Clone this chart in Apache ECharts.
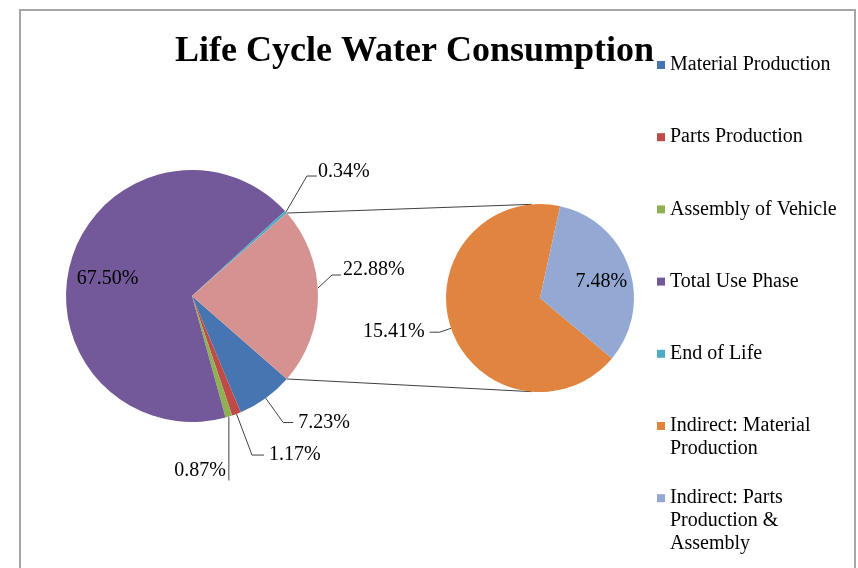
<html>
<head>
<meta charset="utf-8" />
<script src="https://cdn.jsdelivr.net/npm/echarts@6/dist/echarts.min.js"></script>
<style type="text/css">
	html, body, #main {
	width: 100%;
	height: 100%;
	margin: 0;
	background: #fff;
}
</style>
</head>
<body>
	<div id="main"></div>
	<script>
		// shares of total water consumption (%)
		var mainNames = ['Material Production', 'Parts Production', 'Assembly of Vehicle', 'Total Use Phase', 'End of Life', 'Other'];
		var mainValues = [7.23, 1.17, 0.87, 67.50, 0.34, 22.88];
		var subNames = ['Indirect: Material Production', 'Indirect: Parts Production & Assembly'];
		var subValues = [15.41, 7.48];
		var mainColors = ['#4675B1', '#BE4B48', '#8FB151', '#74599A', '#4BACC6', '#D59290'];
		var subColors = ['#E0843F', '#93A9D3'];
		// legend text as wrapped in the picture
		var legendLines = [
			['Material Production'],
			['Parts Production'],
			['Assembly of Vehicle'],
			['Total Use Phase'],
			['End of Life'],
			['Indirect: Material', 'Production'],
			['Indirect: Parts', 'Production &', 'Assembly']
		];

		var font = 'Liberation Serif';
		var C1 = [192, 296], R1 = 126;
		var C2 = [540, 298], R2 = 94;
		var lineH = 23;

		var chart = echarts.init(document.getElementById('main'));

		var otherHalf = mainValues[5] / mainValues.reduce(function (a, b) { return a + b; }, 0) * 180;

		var mainData = mainNames.map(function (n, i) {
			var d = { name: n, value: mainValues[i], itemStyle: { color: mainColors[i] } };
			if (i === 3) {
				d.label = { position: 'inside', offset: [-21, 1] };
				d.labelLine = { show: false };
			}
			if (i === 1) d.labelLine = { length: 44, length2: 12 };
			return d;
		});
		var subData = subNames.map(function (n, i) {
			var d = { name: n, value: subValues[i], itemStyle: { color: subColors[i] } };
			if (i === 1) {
				d.label = { position: 'inside', offset: [14, 0] };
				d.labelLine = { show: false };
			}
			return d;
		});

		var allNames = mainNames.slice(0, 5).concat(subNames);
		var legends = allNames.map(function (n, i) {
			var lines = legendLines[i];
			var padded = [];
			for (var k = 1; k < lines.length; k++) padded.push('');
			padded = padded.concat(lines);
			var y = 65 + 72.2 * i;
			return {
				orient: 'vertical',
				left: 657,
				top: y - lineH * padded.length / 2,
				padding: 0,
				icon: 'rect',
				itemWidth: 8,
				itemHeight: 8,
				selectedMode: false,
				data: [n],
				formatter: function () { return padded.join('\n'); },
				textStyle: { fontFamily: font, fontSize: 20, color: '#000', lineHeight: lineH }
			};
		});

		function pt(c, r, deg) {
			var a = deg * Math.PI / 180;
			return [c[0] + r * Math.cos(a), c[1] - r * Math.sin(a)];
		}
		var pTop1 = pt(C1, R1, otherHalf), pBot1 = pt(C1, R1, -otherHalf);
		var pTop2 = pt(C2, R2, 95), pBot2 = pt(C2, R2, 265);

		var labelStyle = {
			fontFamily: font, fontSize: 20, color: '#000',
			formatter: function (p) { return p.value.toFixed(2) + '%'; }
		};

		var option = {
			animation: false,
			title: {
				text: 'Life Cycle Water Consumption',
				left: 170,
				top: 29,
				textStyle: { fontFamily: font, fontSize: 36, fontWeight: 'bold', color: '#000' }
			},
			legend: legends,
			graphic: [
				{ type: 'rect', shape: { x: 20, y: 10, width: 835, height: 600 },
					style: { fill: 'none', stroke: '#A6A6A6', lineWidth: 2 }, silent: true },
				{ type: 'line', shape: { x1: pTop1[0], y1: pTop1[1], x2: pTop2[0], y2: pTop2[1] },
					style: { stroke: '#404040', lineWidth: 1 }, silent: true },
				{ type: 'line', shape: { x1: pBot1[0], y1: pBot1[1], x2: pBot2[0], y2: pBot2[1] },
					style: { stroke: '#404040', lineWidth: 1 }, silent: true }
			],
			series: [
				{
					type: 'pie',
					center: C1,
					radius: R1,
					startAngle: -otherHalf,
					clockwise: true,
					avoidLabelOverlap: false,
					label: labelStyle,
					labelLine: { length: 30, length2: 10, lineStyle: { color: '#404040', width: 1 } },
					emphasis: { disabled: true },
					labelLayout: function (p) {
						var a = p.labelLinePoints && p.labelLinePoints[0];
						if (!a) return {};
						if (p.dataIndex === 2) {
							return { x: a[0] - 3, y: a[1] + 54, align: 'right', verticalAlign: 'middle',
								labelLinePoints: [a, [a[0], a[1] + 64]] };
						}
						if (p.dataIndex === 4) {
							return { x: a[0] + 32, y: a[1] - 40, align: 'left', verticalAlign: 'middle',
								labelLinePoints: [a, [a[0] + 21, a[1] - 36], [a[0] + 31, a[1] - 36]] };
						}
						if (p.dataIndex === 5) {
							return { x: a[0] + 25, y: a[1] - 26, align: 'left', verticalAlign: 'middle',
								labelLinePoints: [[a[0], a[1] - 8], [a[0] + 14, a[1] - 21], [a[0] + 23, a[1] - 21]] };
						}
						return {};
					},
					data: mainData
				},
				{
					type: 'pie',
					center: C2,
					radius: R2,
					startAngle: -40,
					clockwise: true,
					avoidLabelOverlap: false,
					label: labelStyle,
					labelLine: { length: 12, length2: 10, lineStyle: { color: '#404040', width: 1 } },
					emphasis: { disabled: true },
					data: subData
				}
			]
		};

		chart.setOption(option);

		window.onresize = function () {
			chart.resize();
		};
	</script>
</body>
</html>
